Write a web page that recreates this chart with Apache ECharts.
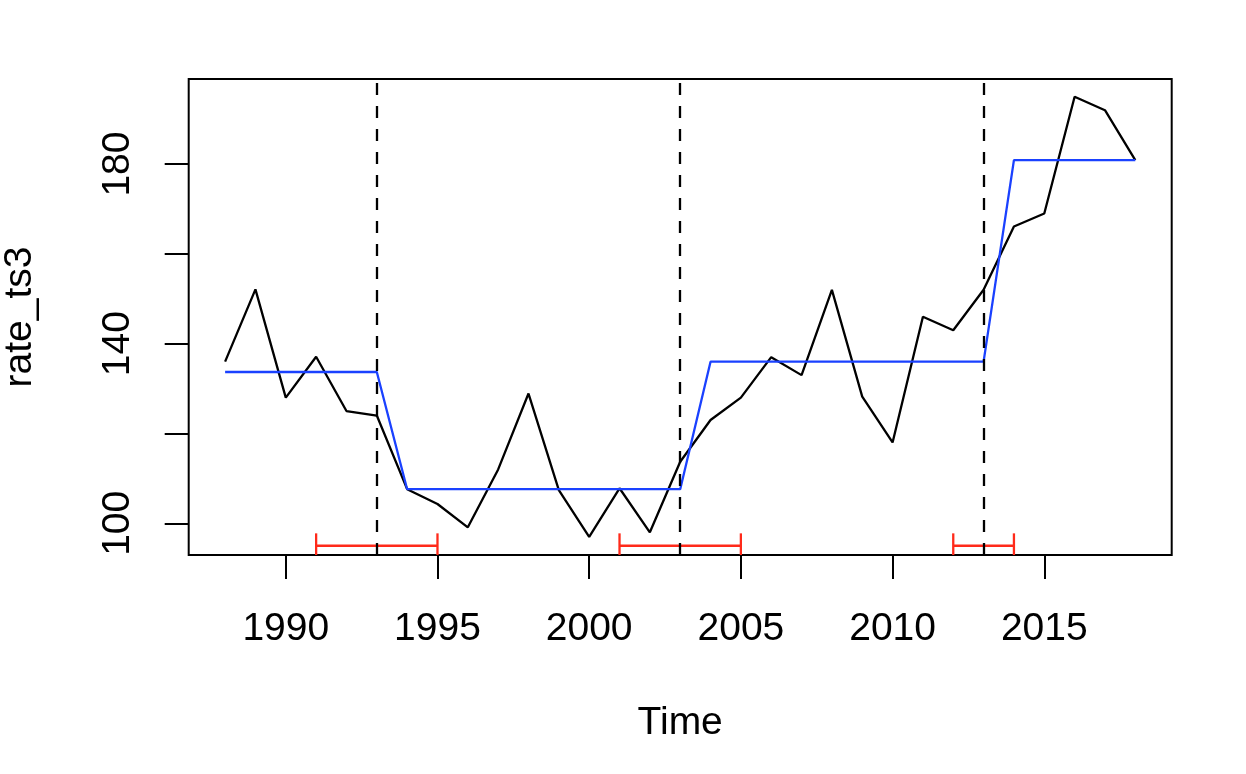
<!DOCTYPE html>
<html><head><meta charset="utf-8">
<script src="https://cdn.jsdelivr.net/npm/echarts@6/dist/echarts.min.js"></script>
<style>html,body{margin:0;padding:0;background:#fff}#c{width:1246px;height:774px}</style>
</head><body><div id="c"></div>
<script>
const years = [1988,1989,1990,1991,1992,1993,1994,1995,1996,1997,1998,1999,2000,2001,2002,2003,2004,2005,2006,2007,2008,2009,2010,2011,2012,2013,2014,2015,2016,2017,2018];
const rateTs3 = [136.0,152.1,128.0,137.1,125.0,124.0,107.6,104.3,99.1,112.0,128.9,107.4,97.0,107.8,98.0,113.7,123.0,128.0,137.0,133.0,152.0,128.2,118.0,146.0,143.0,152.0,166.1,169.0,195.0,192.0,180.9];
const fittedLevel = [133.7,133.7,133.7,133.7,133.7,133.7,107.6,107.6,107.6,107.6,107.6,107.6,107.6,107.6,107.6,107.6,136.0,136.0,136.0,136.0,136.0,136.0,136.0,136.0,136.0,136.0,180.9,180.9,180.9,180.9,180.9];
const breakYears = [1993,2003,2013];
const ciLower = [1991,2001,2012];
const ciUpper = [1995,2005,2014];
const ciLevel = 95.0;
const xTicks = [1990,1995,2000,2005,2010,2015];
const yTicks = [100,120,140,160,180];
const yLabels = [100,140,180];

const FONT = 'Liberation Sans, Arial, Helvetica, sans-serif';
const chart = echarts.init(document.getElementById('c'), null, {renderer:'canvas'});
const red = '#ff2a1a';
const LW = 2.3;
chart.setOption({
  animation:false,
  backgroundColor:'#fff',
  grid:{left:188.7,right:74.3,top:79,bottom:219,show:true,borderColor:'#000',borderWidth:2,backgroundColor:'transparent',
    containLabel:false,outerBoundsMode:'none'},
  xAxis:{type:'value',min:1986.8,max:2019.2,
    axisLine:{show:false},splitLine:{show:false},
    axisTick:{show:true,customValues:xTicks,length:24,lineStyle:{color:'#000',width:2}},
    axisLabel:{customValues:xTicks,margin:54.8,fontSize:39,color:'#000',fontFamily:FONT,formatter:v=>String(v)},
    name:'Time',nameLocation:'middle',nameGap:149,nameTextStyle:{fontSize:39,color:'#000',fontFamily:FONT}
  },
  yAxis:{type:'value',min:92.94,max:198.95,
    axisLine:{show:false},splitLine:{show:false},
    axisTick:{show:true,customValues:yTicks,length:24,lineStyle:{color:'#000',width:2}},
    axisLabel:{customValues:yLabels,rotate:90,margin:50.7,fontSize:39,color:'#000',fontFamily:FONT,formatter:v=>String(v)},
    name:'rate_ts3',nameLocation:'middle',nameGap:148.7,nameTextStyle:{fontSize:39,color:'#000',fontFamily:FONT}
  },
  series:[
    {type:'line',data:years.map((y,i)=>[y,rateTs3[i]]),showSymbol:false,symbol:'none',
      lineStyle:{color:'#000',width:LW},
      markLine:{symbol:'none',silent:true,label:{show:false},animation:false,
        lineStyle:{type:[12,11],color:'#000',width:LW},
        data:breakYears.map(b=>({xAxis:b}))}
    },
    {type:'line',data:years.map((y,i)=>[y,fittedLevel[i]]),showSymbol:false,symbol:'none',
      lineStyle:{color:'#1a41ff',width:LW}},
    {type:'custom',data:ciLower.map((l,i)=>[l,ciUpper[i],ciLevel]),
      encode:{x:[0,1],y:2},
      renderItem:function(params,api){
        const p1=api.coord([api.value(0),api.value(2)]);
        const p2=api.coord([api.value(1),api.value(2)]);
        const cs=params.coordSys; const bottom=cs.y+cs.height;
        const h=12.4;
        const st={stroke:red,lineWidth:LW};
        return {type:'group',children:[
          {type:'line',shape:{x1:p1[0],y1:p1[1],x2:p2[0],y2:p2[1]},style:st},
          {type:'line',shape:{x1:p1[0],y1:p1[1]-h,x2:p1[0],y2:Math.min(p1[1]+h,bottom)},style:st},
          {type:'line',shape:{x1:p2[0],y1:p2[1]-h,x2:p2[0],y2:Math.min(p2[1]+h,bottom)},style:st}
        ]};
      }
    }
  ]
});
</script></body></html>
